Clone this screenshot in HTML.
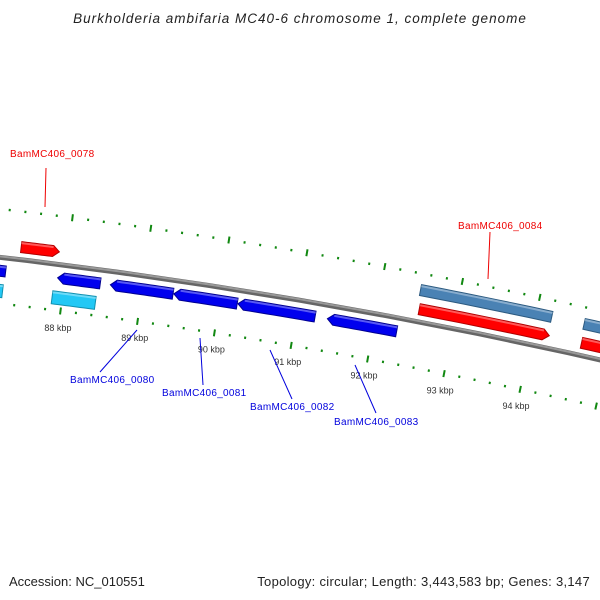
<!DOCTYPE html>
<html><head><meta charset="utf-8">
<style>
html,body{margin:0;padding:0;background:#fff;}
svg{display:block;font-family:"Liberation Sans","DejaVu Sans",sans-serif;}
</style></head>
<body>
<svg id="map" width="600" height="600" viewBox="0 0 600 600" xmlns="http://www.w3.org/2000/svg">
<text x="300" y="23" text-anchor="middle" font-size="13.5" letter-spacing="1" font-style="italic" fill="#222">Burkholderia ambifaria MC40-6 chromosome 1, complete genome</text>
<g id="layer"></g>
<text x="9" y="586" font-size="13" fill="#222">Accession: NC_010551</text>
<text x="590" y="586" text-anchor="end" font-size="13" letter-spacing="0.3" fill="#222">Topology: circular; Length: 3,443,583 bp; Genes: 3,147</text>
</svg>
<script>
const tickKbp = [86, 87, 88, 89, 90, 91, 92, 93, 94, 95, 96];
const labelKbp = [88, 89, 90, 91, 92, 93, 94];
const geneNames = ["g-left-rev","g-left-rev-outer","BamMC406_0078","BamMC406_0079","g-cyan","BamMC406_0080","BamMC406_0081","BamMC406_0082","BamMC406_0083","g-0084-outer","BamMC406_0084","g-right-outer","g-right-fwd"];
const geneStart = [86800, 86800, 87400, 87910, 87870, 88590, 89410, 90240, 91400, 92500, 92530, 94620, 94640];
const geneEnd   = [87240, 87230, 87890, 88460, 88430, 89400, 90230, 91240, 92300, 94200, 94220, 96000, 96000];
const geneStrand= [-1, -1, 1, -1, -1, -1, -1, -1, -1, 1, 1, 1, 1];
const geneTrack = ["rev","revOuter","fwd","rev","revOuter","rev","rev","rev","rev","fwdOuter","fwd","fwdOuter","fwd"];
const geneArrow = [1,0,1,1,0,1,1,1,1,0,1,0,1];

const CX=-659, CY=5919, R=5700, TH0=0.1276, K=0.01375/1000, BP0=88000;
function ang(bp){return TH0+(bp-BP0)*K;}
function pt(bp,r){const t=ang(bp);return [CX+r*Math.sin(t), CY-r*Math.cos(t)];}
const NS="http://www.w3.org/2000/svg";
const layer=document.getElementById('layer');
function mk(tag,attrs){const e=document.createElementNS(NS,tag);for(const k in attrs)e.setAttribute(k,attrs[k]);layer.appendChild(e);return e;}
function arcPts(b1,b2,r){const a=[];const n=12;for(let i=0;i<=n;i++){a.push(pt(b1+(b2-b1)*i/n,r));}return a;}

{const p=arcPts(84000,98000,R).map(q=>q.join(',')).join(' ');
const e=mk('polyline',{points:p,fill:'none',stroke:'#666',"stroke-width":5});


const e2=mk('polyline',{points:p,fill:'none',stroke:'#999',"stroke-width":2,transform:'translate(0,-1)'});

}

const rings=[R+48,R-46];
rings.forEach((rr,ri)=>{
  for(let bp=tickKbp[0]*1000;bp<=tickKbp[tickKbp.length-1]*1000;bp+=200){
    const major=(bp%1000===0);
    const h=major?3.5:1.2;
    const a=pt(bp,rr-h),b=pt(bp,rr+h);
    const e=mk('line',{x1:a[0],y1:a[1],x2:b[0],y2:b[1],stroke:'#118811',"stroke-width":2});
    
    
  }
});
labelKbp.forEach(k=>{
  const p=pt(k*1000,R-66);
  const e=mk('text',{x:p[0],y:p[1],"text-anchor":"middle","font-size":"9",fill:'#333'});
  e.textContent=k+' kbp';
  
  
});

const trackR={fwd:[R+7,R+18],fwdOuter:[R+26,R+37],rev:[R-19,R-8],revOuter:[R-40,R-27]};
const trackCol={fwd:['#ff0000','#b00000'],fwdOuter:['#4a82b4','#2c5a80'],rev:['#0000ee','#000090'],revOuter:['#22c8f5','#1090b0']};
geneStart.forEach((s,i)=>{
  const e0=geneEnd[i],tr=trackR[geneTrack[i]],col=trackCol[geneTrack[i]];
  const r1=tr[0],r2=tr[1],rm=(r1+r2)/2,hl=geneArrow[i]?80:0;
  let pts;
  if(geneStrand[i]>0){
    const be=e0-hl;
    pts=arcPts(s,be,r2).concat([pt(e0,rm)]).concat(arcPts(s,be,r1).reverse());
  }else{
    const bs=s+hl;
    pts=[pt(s,rm)].concat(arcPts(bs,e0,r2)).concat(arcPts(bs,e0,r1).reverse());
  }
  const g=mk('polygon',{points:pts.map(q=>q.join(',')).join(' '),fill:col[0],stroke:col[1],"stroke-width":1});
  
  
  const hp=arcPts(s+hl*(geneStrand[i]<0?1:0),e0-hl*(geneStrand[i]>0?1:0),r2-1.5).map(q=>q.join(',')).join(' ');
  const h=mk('polyline',{points:hp,fill:'none',stroke:'#fff',"stroke-opacity":0.35,"stroke-width":2});
  
  
});

const callouts=[
 ["BamMC406_0078",[46,168],[45,207],[10,157],'#ee0000'],
 ["BamMC406_0084",[490,232],[488,279],[458,229],'#ee0000'],
 ["BamMC406_0080",[137,330],[100,372],[70,383],'#0000dd'],
 ["BamMC406_0081",[200,338],[203,385],[162,396],'#0000dd'],
 ["BamMC406_0082",[270,350],[292,399],[250,410],'#0000dd'],
 ["BamMC406_0083",[355,365],[376,413],[334,425],'#0000dd']
];
callouts.forEach(c=>{
  const l=mk('line',{x1:c[1][0],y1:c[1][1],x2:c[2][0],y2:c[2][1],stroke:c[4],"stroke-width":1});
  
  
  const t=mk('text',{x:c[3][0],y:c[3][1],"font-size":"10","letter-spacing":"0.3",fill:c[4]});
  t.textContent=c[0];
  
  
});
</script>
</body></html>
